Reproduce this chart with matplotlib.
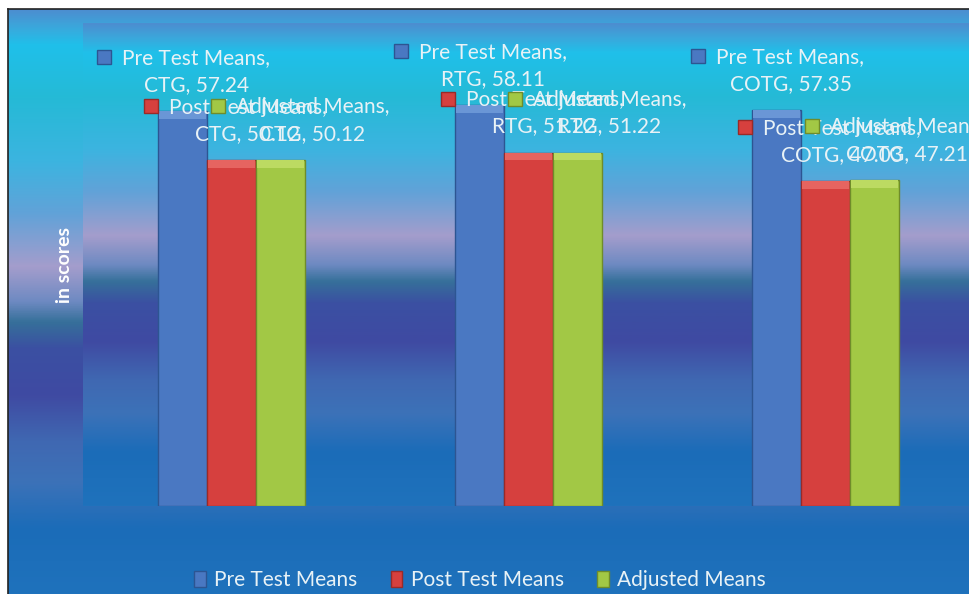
import numpy as np
import matplotlib
matplotlib.use('Agg')
import matplotlib.pyplot as plt
from matplotlib.colors import LinearSegmentedColormap
from matplotlib.patches import Patch
from matplotlib.transforms import IdentityTransform

# data
groups = ['CTG', 'RTG', 'COTG']
series = ['Pre Test Means', 'Post Test Means', 'Adjusted Means']
pre_means = [57.24, 58.11, 57.35]
post_means = [50.12, 51.22, 47.03]
adj_means = [50.12, 51.22, 47.21]

# styling
body_colors = ['#4a78c2', '#d6403e', '#a2c845']
edge_colors = ['#2d5592', '#9a2a28', '#6f8c2a']
top_colors = ['#6a96d6', '#e66460', '#bcda62']
label_dx = [14, 16, 32]          # pixel shift of each series' data label
TXT = '#e8f2f6'
FONT = 'Lato'

stops = [(0.00, '#4c8ed0'), (0.03, '#3aa8dc'), (0.06, '#1fc0ea'),
         (0.15, '#25bad6'), (0.26, '#3cb4e0'), (0.35, '#62a2d8'),
         (0.44, '#a49dcc'), (0.50, '#6e8ac2'), (0.535, '#36709a'),
         (0.58, '#3b50a2'), (0.66, '#3f4aa2'), (0.74, '#4068b2'),
         (0.81, '#3c72b8'), (0.89, '#1b6cb8'), (1.00, '#1f72bc')]
grad = LinearSegmentedColormap.from_list('bg', stops)
ramp = np.linspace(0, 1, 256).reshape(-1, 1)

W, H = 970, 594
fig = plt.figure(figsize=(W / 100, H / 100), dpi=100, facecolor='white')

# outer chart area with the banded gradient
bg = fig.add_axes([8 / W, 0, 1 - 8 / W, (H - 9) / H])
bg.imshow(ramp, cmap=grad, aspect='auto', extent=[0, 1, 0, 1], origin='upper')
bg.set_xticks([])
bg.set_yticks([])
for s in ['right', 'bottom']:
    bg.spines[s].set_visible(False)
for s in ['left', 'top']:
    bg.spines[s].set_color('#222222')
    bg.spines[s].set_linewidth(1.2)

# plot area
ax = fig.add_axes([83 / W, (H - 506) / H, (974 - 83) / W, (506 - 23) / H])
ax.imshow(ramp, cmap=grad, aspect='auto', extent=[-0.5, 2.5, 0, 70],
          origin='upper', zorder=0)
ax.set_xlim(-0.5, 2.5)
ax.set_ylim(0, 70)
ax.set_xticks([])
ax.set_yticks([])
for s in ax.spines.values():
    s.set_visible(False)

x = np.arange(len(groups))
w = 0.165
bevel = 1.1
all_vals = [pre_means, post_means, adj_means]
line1_texts = []
for i, vals in enumerate(all_vals):
    vals = np.array(vals)
    pos = x + (i - 1) * w
    ax.bar(pos, vals, w, color=body_colors[i], edgecolor=edge_colors[i],
           linewidth=1.0, zorder=3)
    ax.bar(pos, bevel, w * 0.96, bottom=vals - bevel, color=top_colors[i],
           linewidth=0, zorder=4)
    for j, v in enumerate(vals):
        ax.annotate(f'{groups[j]}, {v:.2f}', xy=(pos[j], v),
                    xytext=(label_dx[i], 20), textcoords='offset pixels',
                    ha='center', va='baseline', fontsize=15,
                    family=FONT, color=TXT, zorder=6)
        l1 = ax.annotate(f'{series[i]},', xy=(pos[j], v),
                         xytext=(label_dx[i], 47), textcoords='offset pixels',
                         ha='center', va='baseline', fontsize=15,
                         family=FONT, color=TXT, zorder=6)
        line1_texts.append((l1, i))

# legend keys in front of the first label line
fig.canvas.draw()
for l1, i in line1_texts:
    bb = l1.get_window_extent()
    ax.plot([bb.x0 - 18], [bb.y0 + 11], marker='s', markersize=9.5,
            color=body_colors[i], markeredgecolor=edge_colors[i],
            transform=IdentityTransform(), zorder=6, clip_on=False)

fig.text(65 / W, 1 - 265 / H, 'in scores', rotation=90, ha='center',
         va='center', color='white', fontsize=14, fontweight='bold',
         family=FONT)

handles = [Patch(facecolor=body_colors[i], edgecolor=edge_colors[i],
                 label=series[i]) for i in range(3)]
fig.legend(handles=handles, loc='center', ncol=3,
           bbox_to_anchor=(480 / W, 1 - 580 / H), frameon=False,
           prop={'family': FONT, 'size': 15}, labelcolor=TXT,
           handlelength=0.55, handleheight=0.8, handletextpad=0.4,
           columnspacing=1.6)

fig.savefig('out.png', dpi=100, facecolor='white')
